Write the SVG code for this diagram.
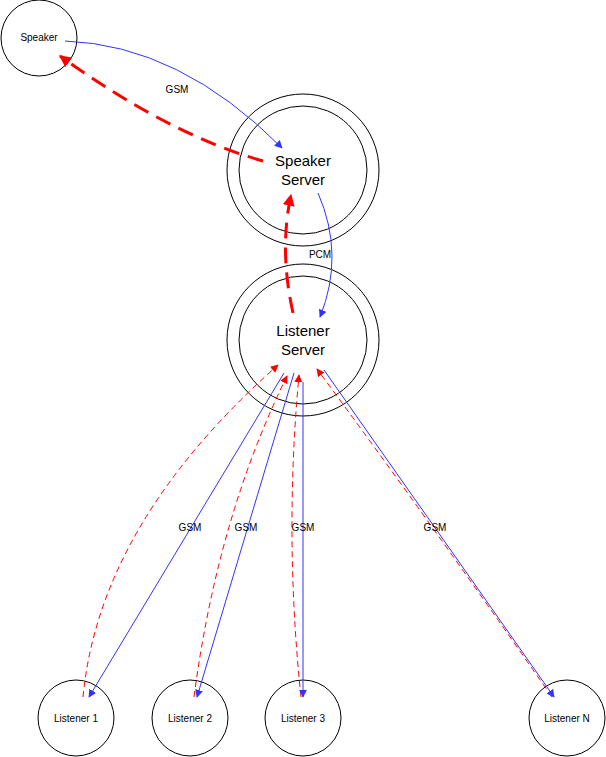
<svg xmlns="http://www.w3.org/2000/svg" width="606" height="757" viewBox="0 0 606 757">
<defs>
<style>
.n{fill:#fff;stroke:#000;stroke-width:1}
.t{font-family:"Liberation Sans",Arial,sans-serif;font-size:10px;fill:#000;text-anchor:middle}
.big{font-size:15px}
.b{fill:none;stroke:#3333ff;stroke-width:1}
.r{fill:none;stroke:#ff0000;stroke-width:1;stroke-dasharray:6,4}
.R{fill:none;stroke:#ff0000;stroke-width:3;stroke-dasharray:16,9}
</style>
<marker id="mb" viewBox="0 0 10 10" refX="9" refY="5" markerWidth="8" markerHeight="8" markerUnits="userSpaceOnUse" orient="auto"><path d="M0,0L10,5L0,10z" fill="#3333ff"/></marker>
<marker id="mr" viewBox="0 0 10 10" refX="9" refY="5" markerWidth="8" markerHeight="8" markerUnits="userSpaceOnUse" orient="auto"><path d="M0,0L10,5L0,10z" fill="#ff0000"/></marker>
<marker id="mR" viewBox="0 0 10 10" refX="9" refY="5" markerWidth="12" markerHeight="12" markerUnits="userSpaceOnUse" orient="auto"><path d="M0,0L10,5L0,10z" fill="#ff0000"/></marker>
</defs>
<rect width="606" height="757" fill="#fff"/>
<g id="speaker"><circle class="n" cx="39" cy="38" r="38"/><text class="t" x="39" y="41">Speaker</text></g>
<g id="speaker-server"><circle class="n" cx="303" cy="170" r="76"/><circle class="n" cx="303" cy="170" r="64"/><text class="t big" x="303" y="166">Speaker</text><text class="t big" x="303" y="185">Server</text></g>
<g id="listener-server"><circle class="n" cx="303" cy="340" r="76"/><circle class="n" cx="303" cy="340" r="64"/><text class="t big" x="303" y="336">Listener</text><text class="t big" x="303" y="355">Server</text></g>
<g id="listener1"><circle class="n" cx="76" cy="718" r="38"/><text class="t" x="76" y="722">Listener 1</text></g>
<g id="listener2"><circle class="n" cx="190" cy="718" r="38"/><text class="t" x="190" y="722">Listener 2</text></g>
<g id="listener3"><circle class="n" cx="303" cy="718" r="38"/><text class="t" x="303" y="722">Listener 3</text></g>
<g id="listenerN"><circle class="n" cx="567" cy="718" r="38"/><text class="t" x="567" y="722">Listener N</text></g>
<g id="connectors">
<path class="b" d="M65,41 Q180,45 282,148" marker-end="url(#mb)"/>
<path class="R" d="M263,161 Q170,135 60,56" marker-end="url(#mR)"/>
<path class="R" d="M293,313 Q279,250 291,195" marker-end="url(#mR)"/>
<path class="b" d="M318,193 Q345,255 320,317" marker-end="url(#mb)"/>
<path class="r" d="M83,697 Q99.5,523 278,365" marker-end="url(#mr)"/>
<path class="b" d="M284,373 L89,697" marker-end="url(#mb)"/>
<path class="r" d="M194,697 Q217.5,517.5 287,376" marker-end="url(#mr)"/>
<path class="b" d="M294,373 L197,697" marker-end="url(#mb)"/>
<path class="r" d="M301,697 Q284,536 299,375" marker-end="url(#mr)"/>
<path class="b" d="M303,382 L303,697" stroke-width="2" marker-end="url(#mb)"/>
<path class="r" d="M552,697 Q429.5,521 317,369" marker-end="url(#mr)"/>
<path class="b" d="M324,370 L554,697" marker-end="url(#mb)"/>
</g>
<g id="labels">
<text class="t" x="177" y="93">GSM</text>
<text class="t" x="320" y="258">PCM</text>
<text class="t" x="190" y="531">GSM</text>
<text class="t" x="246" y="531">GSM</text>
<text class="t" x="303" y="531">GSM</text>
<text class="t" x="435" y="531">GSM</text>
</g>
</svg>
